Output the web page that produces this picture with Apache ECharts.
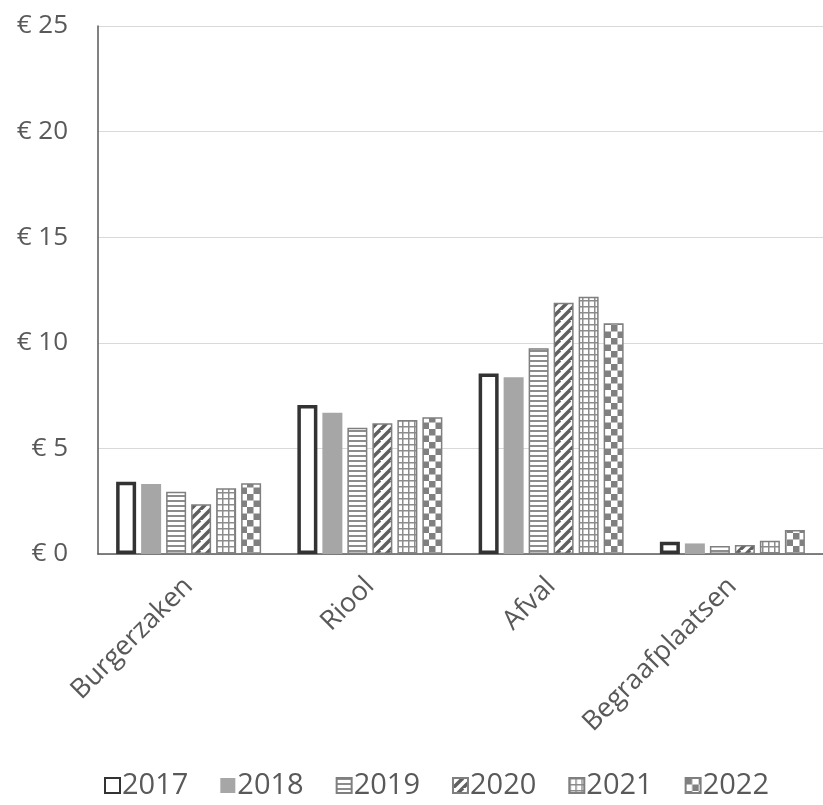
<!DOCTYPE html>
<html><head><meta charset="utf-8">
<script src="https://cdn.jsdelivr.net/npm/echarts@6/dist/echarts.min.js"></script>
<style>html,body{margin:0;padding:0;background:#fff}#c{width:823px;height:805px}</style>
</head><body><div id="c"></div>
<script>
const categories = ['Burgerzaken', 'Riool', 'Afval', 'Begraafplaatsen'];
const years = ['2017', '2018', '2019', '2020', '2021', '2022'];
const v2017 = [3.42, 7.05, 8.55, 0.58];
const v2018 = [3.31, 6.69, 8.37, 0.50];
const v2019 = [2.95, 5.98, 9.74, 0.38];
const v2020 = [2.35, 6.19, 11.90, 0.43];
const v2021 = [3.11, 6.34, 12.18, 0.63];
const v2022 = [3.35, 6.47, 10.92, 1.14];
const yTicks = [0, 5, 10, 15, 20, 25];

function mk(w, h, draw) {
  const c = document.createElement('canvas'); c.width = w; c.height = h;
  const g = c.getContext('2d'); g.fillStyle = '#fff'; g.fillRect(0, 0, w, h); draw(g); return c;
}
const pStripes = mk(4, 5, g => { g.fillStyle = '#8c8c8c'; g.fillRect(0, 0, 4, 2); });
const pDiag = mk(10, 10, g => {
  g.strokeStyle = '#5f5f5f'; g.lineWidth = 3.5;
  for (let k = -10; k <= 20; k += 10) { g.beginPath(); g.moveTo(k - 10, 20); g.lineTo(k + 10, 0); g.stroke(); }
});
const pGrid = mk(6, 6, g => { g.fillStyle = '#8c8c8c'; g.fillRect(0, 0, 6, 1.5); g.fillRect(0, 0, 1.5, 6); });
const pCheck = mk(13, 13, g => { g.fillStyle = '#808080'; g.fillRect(0, 0, 6.5, 6.5); g.fillRect(6.5, 6.5, 6.5, 6.5); });

const values = [v2017, v2018, v2019, v2020, v2021, v2022];
const styles = [
  { color: '#fff', borderColor: '#333', borderWidth: 3.5 },
  { color: '#a6a6a6' },
  { color: { image: pStripes, repeat: 'repeat' }, borderColor: '#7f7f7f', borderWidth: 1.5 },
  { color: { image: pDiag, repeat: 'repeat' }, borderColor: '#7f7f7f', borderWidth: 1.5 },
  { color: { image: pGrid, repeat: 'repeat' }, borderColor: '#7f7f7f', borderWidth: 1.5 },
  { color: { image: pCheck, repeat: 'repeat' }, borderColor: '#7f7f7f', borderWidth: 1.5 }
];
const font = 'Open Sans';
const chart = echarts.init(document.getElementById('c'), null, { renderer: 'canvas' });
chart.setOption({
  animation: false,
  grid: { left: 98, right: 0, top: 26, bottom: 251 },
  legend: {
    bottom: 0, left: 99, icon: 'rect', itemWidth: 15, itemHeight: 15, itemGap: 32,
    textStyle: { fontFamily: font, fontSize: 29, color: '#595959', padding: [0, 0, 0, -3] },
    data: years
  },
  xAxis: {
    type: 'category', data: categories,
    axisLine: { lineStyle: { color: '#595959', width: 1.5 } },
    axisTick: { show: false },
    axisLabel: { rotate: 45, fontFamily: font, fontSize: 27, color: '#595959', margin: 28, interval: 0 }
  },
  yAxis: {
    type: 'value', min: yTicks[0], max: yTicks[yTicks.length - 1], interval: 5,
    axisLine: { show: true, lineStyle: { color: '#595959', width: 1.5 } },
    axisTick: { show: false },
    splitLine: { lineStyle: { color: '#d9d9d9', width: 1.2 } },
    axisLabel: { fontFamily: font, fontSize: 26, color: '#595959', margin: 30, formatter: v => '€ ' + v }
  },
  series: years.map((y, i) => ({
    name: y, type: 'bar', data: values[i], itemStyle: styles[i],
    barGap: '25%', barCategoryGap: '20%'
  }))
});
</script></body></html>
